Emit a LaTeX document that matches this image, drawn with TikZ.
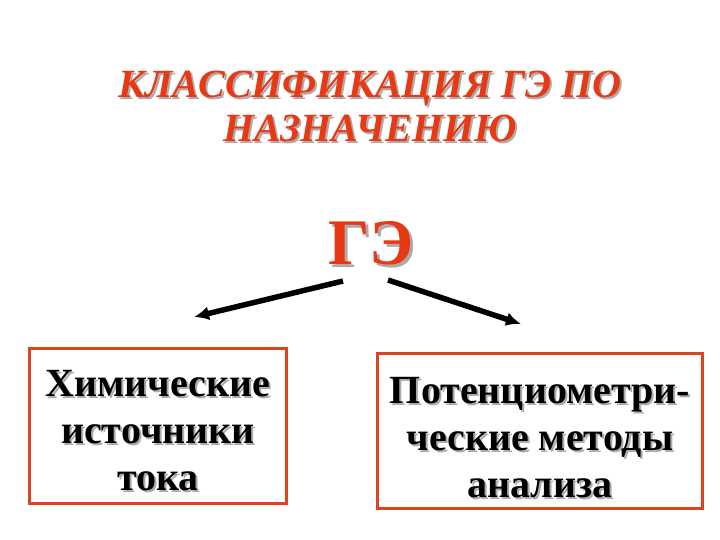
\documentclass[tikz,border=0pt]{standalone}
\usepackage{fontspec}
\setmainfont{Liberation Serif}
\usetikzlibrary{arrows.meta}

\definecolor{titlered}{RGB}{232,56,20}
\definecolor{framered}{RGB}{222,66,34}
\definecolor{shade}{RGB}{175,170,170}

% text with a grey drop shadow
\newcommand{\shtxt}[2][2pt]{\makebox[0pt][l]{\hspace{#1}\raisebox{-#1}{\textcolor{shade}{#2}}}#2}

\tikzset{
  heading/.style={text=titlered, align=center,
    font=\bfseries\itshape\fontsize{40}{44}\selectfont},
  bigtag/.style={text=titlered, font=\bfseries\fontsize{65}{70}\selectfont},
  kindbox/.style={draw=framered, line width=3.5pt, align=center, inner sep=0pt,
    font=\bfseries\fontsize{40}{47}\selectfont},
  branch/.style={line width=5.5pt, -{Latex[length=15pt,width=14pt]}}
}

\begin{document}
\begin{tikzpicture}[x=1pt,y=-1pt]
    \useasboundingbox (0,0) rectangle (720,540);
    \node[heading] (title) at (370,107) {\shtxt{КЛАССИФИКАЦИЯ ГЭ ПО}\\\shtxt{НАЗНАЧЕНИЮ}};
    \node[bigtag] (ge) at (371,245) {\shtxt[3pt]{ГЭ}};
    \node[kindbox, minimum width=257pt, minimum height=155pt] (chem) at (158,426)
      {\rule{0pt}{37pt}\shtxt{Химические}\\\shtxt{источники}\\\shtxt{тока}};
    \node[kindbox, minimum width=325pt, minimum height=155pt] (pot) at (540,431)
      {\rule{0pt}{41pt}\shtxt{Потенциометри-}\\\shtxt{ческие методы}\\\shtxt{анализа}};
    \coordinate (gl) at (343,281);
    \coordinate (gr) at (388,280);
    \coordinate (cl) at (194,317);
    \coordinate (cr) at (521,324);
    \draw[branch] (gl) -- (cl);
    \draw[branch] (gr) -- (cr);
\end{tikzpicture}
\end{document}
